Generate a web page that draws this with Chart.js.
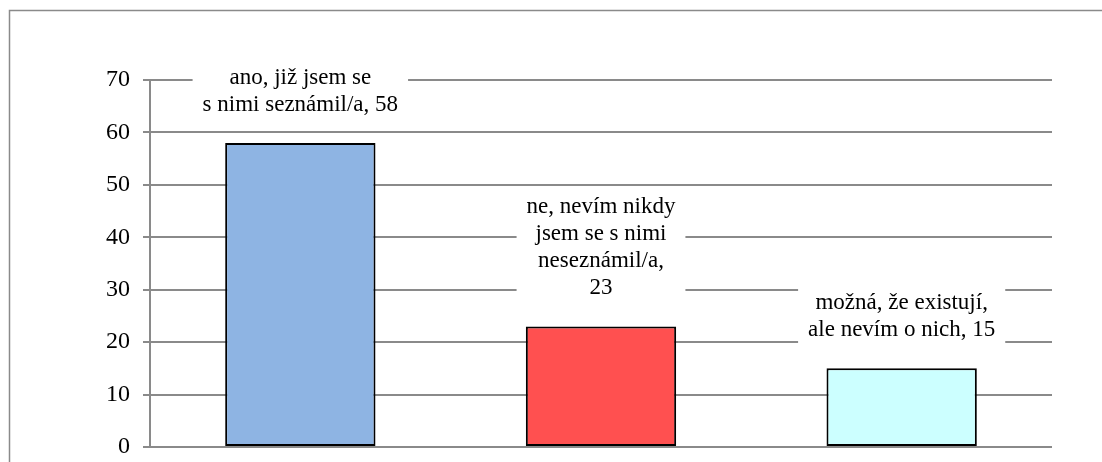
<!DOCTYPE html>
<html>
<head>
<meta charset="utf-8">
<script src="https://cdn.jsdelivr.net/npm/chart.js@4/dist/chart.umd.min.js"></script>
<style>
  html, body { margin: 0; padding: 0; background: #fff; }
  canvas { display: block; }
</style>
</head>
<body>
<canvas id="surveyChart" width="1102" height="462"></canvas>
<script>
// data
const categories = [
  'ano, již jsem se s nimi seznámil/a',
  'ne, nevím nikdy jsem se s nimi neseznámil/a',
  'možná, že existují, ale nevím o nich'
]
// how each category label wraps in the picture
const labelLines = [
  ['ano, již jsem se', 's nimi seznámil/a, {v}'],
  ['ne, nevím nikdy', 'jsem se s nimi', 'neseznámil/a,', '{v}'],
  ['možná, že existují,', 'ale nevím o nich, {v}']
]
const values = [58, 23, 15]
const barColors = ['#8EB4E3', '#FF5050', '#CCFFFF']
const yTicks = [0, 10, 20, 30, 40, 50, 60, 70]

const FONT = '"Liberation Serif", "Times New Roman", serif'
const GRID = '#8a8a8a'

// frame round the whole chart
const framePlugin = {
  id: 'frame',
  beforeDraw(chart) {
    const ctx = chart.ctx
    ctx.save()
    ctx.fillStyle = '#fff'
    ctx.fillRect(0, 0, chart.width, chart.height)
    ctx.strokeStyle = GRID
    ctx.lineWidth = 1.5
    ctx.strokeRect(9.5, 10.5, chart.width + 20, chart.height + 20)
    ctx.restore()
  }
}

// value labels in white boxes above the bars
const labelPlugin = {
  id: 'barLabels',
  afterDatasetsDraw(chart) {
    const ctx = chart.ctx
    const meta = chart.getDatasetMeta(0)
    const lineH = 27
    ctx.save()
    ctx.font = '23px ' + FONT
    ctx.textAlign = 'center'
    ctx.textBaseline = 'middle'
    meta.data.forEach((bar, i) => {
      const lines = labelLines[i].map(l => l.replace('{v}', values[i]))
      const w = Math.max(...lines.map(l => ctx.measureText(l).width))
      const lastY = bar.y - 38
      const firstY = lastY - (lines.length - 1) * lineH
      ctx.fillStyle = '#fff'
      ctx.fillRect(bar.x - w / 2 - 10, firstY - 15, w + 20, lastY - firstY + 30)
      ctx.fillStyle = '#000'
      lines.forEach((l, k) => ctx.fillText(l, bar.x, firstY + k * lineH))
    })
    ctx.restore()
  }
}

new Chart(document.getElementById('surveyChart'), {
  type: 'bar',
  data: {
    labels: categories,
    datasets: [{
      data: values,
      backgroundColor: barColors,
      borderColor: '#000',
      borderWidth: 2,
      borderSkipped: false,
      barPercentage: 0.5,
      categoryPercentage: 1
    }]
  },
  options: {
    responsive: false,
    animation: false,
    layout: { padding: { top: 80, right: 50, bottom: 15, left: 0 } },
    plugins: { legend: { display: false }, tooltip: { enabled: false } },
    scales: {
      x: { display: false },
      y: {
        min: 0,
        max: 70,
        afterFit: (scale) => {
          scale.width = 150
          scale.paddingTop = 0
          scale.paddingBottom = 0
        },
        afterBuildTicks: (scale) => { scale.ticks = yTicks.map(v => ({ value: v })) },
        grid: { color: GRID, lineWidth: 2, tickLength: 7, tickColor: GRID },
        border: { display: true, color: GRID, width: 2 },
        ticks: { color: '#000', padding: 13, font: { family: FONT, size: 24 } }
      }
    }
  },
  plugins: [framePlugin, labelPlugin]
})
</script>
</body>
</html>
